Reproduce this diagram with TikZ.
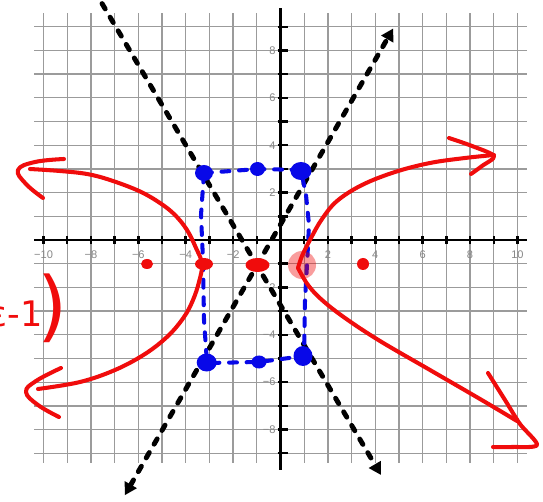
\documentclass[tikz,border=0pt]{standalone}
\usepackage{fontspec}
\setmainfont{Liberation Sans}
\newfontfamily\labfont{Liberation Sans}
\newfontfamily\handfont{DejaVu Sans}
\usetikzlibrary{arrows.meta}
\definecolor{hred}{RGB}{240,12,12}
\definecolor{hblue}{RGB}{8,8,232}
\definecolor{gridc}{RGB}{155,155,155}
\definecolor{labc}{RGB}{135,135,135}
\begin{document}
\begin{tikzpicture}[x=0.02cm,y=-0.02cm,
  gridline/.style={draw=gridc,line width=0.75pt},
  axisline/.style={draw=black,line width=1.6pt},
  tickmark/.style={draw=black,line width=1.4pt},
  ticklab/.style={text=labc,font=\labfont\fontsize{6.3}{6.3}\selectfont,inner sep=0pt},
  asym/.style={draw=black,line width=2.8pt,dash pattern=on 3.5pt off 5.5pt,line cap=round},
  boxline/.style={draw=hblue,line width=2.3pt,dash pattern=on 4.5pt off 5.5pt,line cap=round},
  branch/.style={draw=hred,line width=2.3pt,line cap=round,line join=round}]
\useasboundingbox (0,0) rectangle (543,502);
\fill[white] (0,0) rectangle (543,502);

% grid and axes in graph units
\begin{scope}[shift={(280.5,240)},x=0.474cm,y=0.474cm]
  \foreach \i in {-10,...,10} \draw[gridline] (\i,-9.4) -- (\i,9.6);
  \foreach \j in {-9,...,9} \draw[gridline] (-10.4,\j) -- (10.4,\j);
  \draw[axisline] (-10.4,0) -- (10.4,0);
  \draw[axisline] (0,-9.7) -- (0,9.8);
  \foreach \i in {-10,...,10} \draw[tickmark] (\i,-0.17) -- (\i,0.17);
  \foreach \j in {-9,...,9} \draw[tickmark] (-0.12,\j) -- (0.32,\j);
  \foreach \i/\t [count=\k] in {-10/−10,-8/−8,-6/−6,-4/−4,-2/−2,2/2,4/4,6/6,8/8,10/10}
    \node[ticklab] (xl\k) at (\i,-0.6) {\t};
  \foreach \j/\t [count=\k] in {-8/−8,-6/−6,-4/−4,-2/−2,2/2,4/4,6/6,8/8}
    \node[ticklab,anchor=east] (yl\k) at (-0.2,\j) {\t};
\end{scope}

% asymptotes
\coordinate (a1s) at (124.7,495.3);
\coordinate (a1e) at (393.3,28.4);
\coordinate (a2s) at (94,-10);
\coordinate (a2e) at (381,475);
\draw[asym,{Triangle[length=7pt,width=7.5pt]}-{Triangle[length=7pt,width=7.5pt]}] (a1s) -- (a1e);
\draw[asym,-{Triangle[length=7pt,width=7.5pt]}] (a2s) -- (a2e);

% blue box
\draw[boxline] (204,173) -- (258,169) -- (301,170) -- (306,195) -- (309,225)
  -- (307,265) -- (305,300) -- (304,356) -- (259,362) -- (207,363)
  -- (204,320) -- (203,260) -- (201,215) -- cycle;
\fill[hblue] (204,173) ellipse [x radius=9, y radius=8];
\fill[hblue] (257.5,169) ellipse [x radius=7.5, y radius=7];
\fill[hblue] (301,171) ellipse [x radius=10.5, y radius=9];
\fill[hblue] (206.7,362.5) ellipse [x radius=10, y radius=9];
\fill[hblue] (259,362) ellipse [x radius=7.5, y radius=6.5];
\fill[hblue] (303,356) ellipse [x radius=9.5, y radius=10];

% hyperbola branches
\draw[branch] plot[smooth,tension=0.6] coordinates {(30,169) (60,171) (87,174) (110,180)
  (139,191) (160,203) (175,215) (187,230) (196,248) (202,264) (199,282) (193,300)
  (184,317) (168,336) (145,354) (115,370) (80,382) (38,389)};
\draw[branch] plot[smooth,tension=0.6] coordinates {(494,155) (465,158) (430,163) (395,172)
  (362,185) (337,201) (322,219) (311,238) (302,256) (298,268)};
\draw[branch] plot[smooth,tension=0.6] coordinates {(298,268) (308,285) (322,300)
  (345,318) (380,341) (430,370) (480,399) (517,421)};

% hand-drawn arrowheads
\draw[branch] plot[smooth,tension=0.7] coordinates {(64,159) (35,162) (18,170) (26,184) (43,198)};
\draw[branch] plot[smooth,tension=0.7] coordinates {(61,368) (36,381) (26,392) (38,405) (59,417)};
\draw[branch] plot[smooth,tension=0.5] coordinates {(449,138) (472,146) (494,156) (482,166) (471,174)};
\draw[branch] plot[smooth,tension=0.5] coordinates {(488,373) (505,400) (520,424) (537,445) (512,447) (493,447)};

% points
\fill[hred] (147,264) ellipse [x radius=6, y radius=5];
\fill[hred] (363,264) ellipse [x radius=6, y radius=6];
\fill[hred] (257.5,265) ellipse [x radius=12, y radius=7];
\fill[hred] (204,264) ellipse [x radius=9, y radius=6];
\fill[hred,opacity=0.4] (302,265) circle [radius=14];

% handwritten fragment at left edge
\node[text=hred,anchor=west,inner sep=0pt,font=\handfont\fontsize{20}{20}\selectfont] (hw) at (-12,308) {ε-1\kern-3pt\raisebox{-3pt}{\fontsize{44}{44}\selectfont)}};
\end{tikzpicture}
\end{document}
